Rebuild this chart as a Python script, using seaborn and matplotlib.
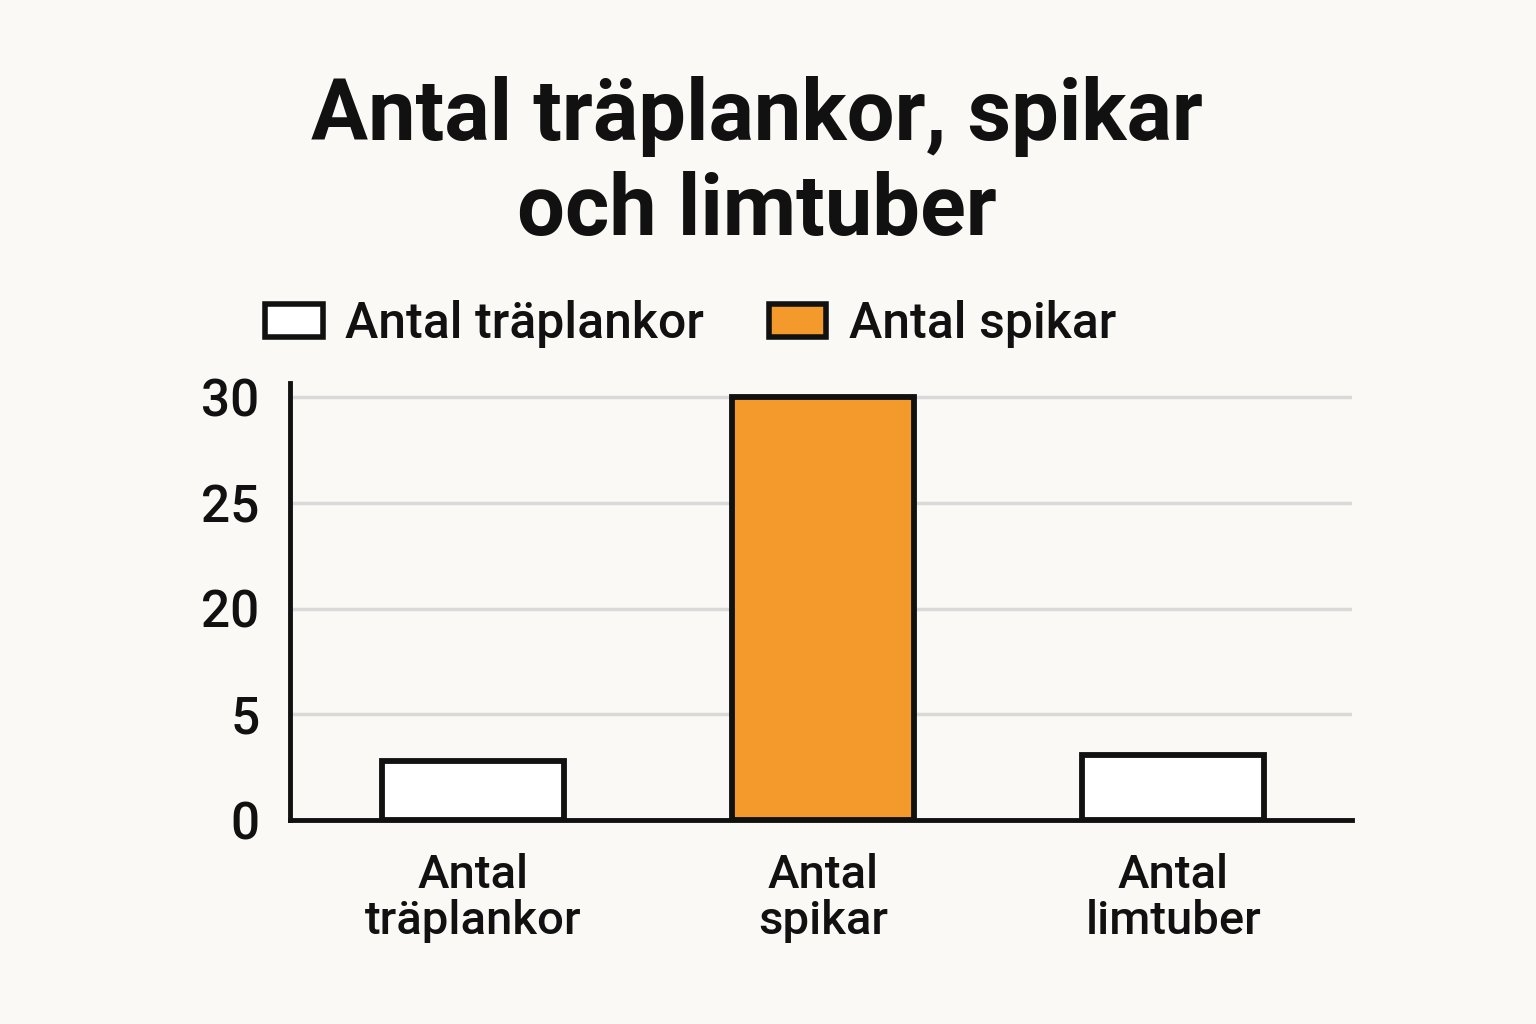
import matplotlib
matplotlib.use('Agg')
import matplotlib.pyplot as plt
import seaborn as sns
import pandas as pd
import numpy as np
from matplotlib.patches import Patch

kategorier = ['Antal\nträplankor', 'Antal\nspikar', 'Antal\nlimtuber']
antal = [4.2, 30, 4.6]
farger = ['#FFFFFF', '#F49A2C', '#FFFFFF']
ytick_etiketter = ['0', '5', '20', '25', '30']
legend_etiketter = ['Antal träplankor', 'Antal spikar']
legend_farger = ['#FFFFFF', '#F49A2C']

bg = '#FAF9F5'
ink = '#111111'

sns.set_theme(style='white')
plt.rcParams['font.family'] = ['Roboto', 'DejaVu Sans']

df = pd.DataFrame({'kategori': kategorier, 'antal': antal})

fig = plt.figure(figsize=(15.36, 10.24), dpi=100, facecolor=bg)
ax = fig.add_axes([290 / 1536, 1 - 820 / 1024, 1062 / 1536, (820 - 383) / 1024])
ax.set_facecolor(bg)

sns.barplot(data=df, x='kategori', y='antal', hue='kategori', palette=farger,
            saturation=1, legend=False, width=0.52, edgecolor=ink, linewidth=4.2,
            ax=ax, zorder=3)

ax.set_xlim(-0.523, 2.51)
ax.set_ylim(0, 30 * 437 / 423)
ax.set_yticks(np.linspace(0, 30, len(ytick_etiketter)))
ax.set_yticklabels(ytick_etiketter)
ax.yaxis.grid(True, color='#D9D9D9', linewidth=2.5, zorder=0)
ax.xaxis.grid(False)
ax.tick_params(axis='y', length=0, pad=22, labelsize=37, colors=ink)
ax.tick_params(axis='x', length=0, pad=24, labelsize=34, colors=ink)
for lbl in ax.get_xticklabels() + ax.get_yticklabels():
    lbl.set_fontweight('medium')
for lbl in ax.get_xticklabels():
    lbl.set_linespacing(1.05)
ax.set_xlabel('')
ax.set_ylabel('')
for side in ['top', 'right']:
    ax.spines[side].set_visible(False)
for side in ['left', 'bottom']:
    ax.spines[side].set_color(ink)
    ax.spines[side].set_linewidth(3.5)

fig.text(757 / 1536, 1 - 76 / 1024, 'Antal träplankor, spikar\noch limtuber',
         ha='center', va='top', fontsize=61, fontweight='bold', color=ink,
         linespacing=1.22)

handles = [Patch(facecolor=c, edgecolor=ink, linewidth=4) for c in legend_farger]
fig.legend(handles, legend_etiketter, loc='center left',
           bbox_to_anchor=(265 / 1536, 1 - 324 / 1024), ncol=2, frameon=False,
           prop={'size': 36, 'weight': 'medium'}, handlelength=1.15,
           handleheight=0.62, handletextpad=0.45, columnspacing=1.3,
           borderpad=0, borderaxespad=0, labelcolor=ink)

fig.savefig('out.png', dpi=100, facecolor=bg)
